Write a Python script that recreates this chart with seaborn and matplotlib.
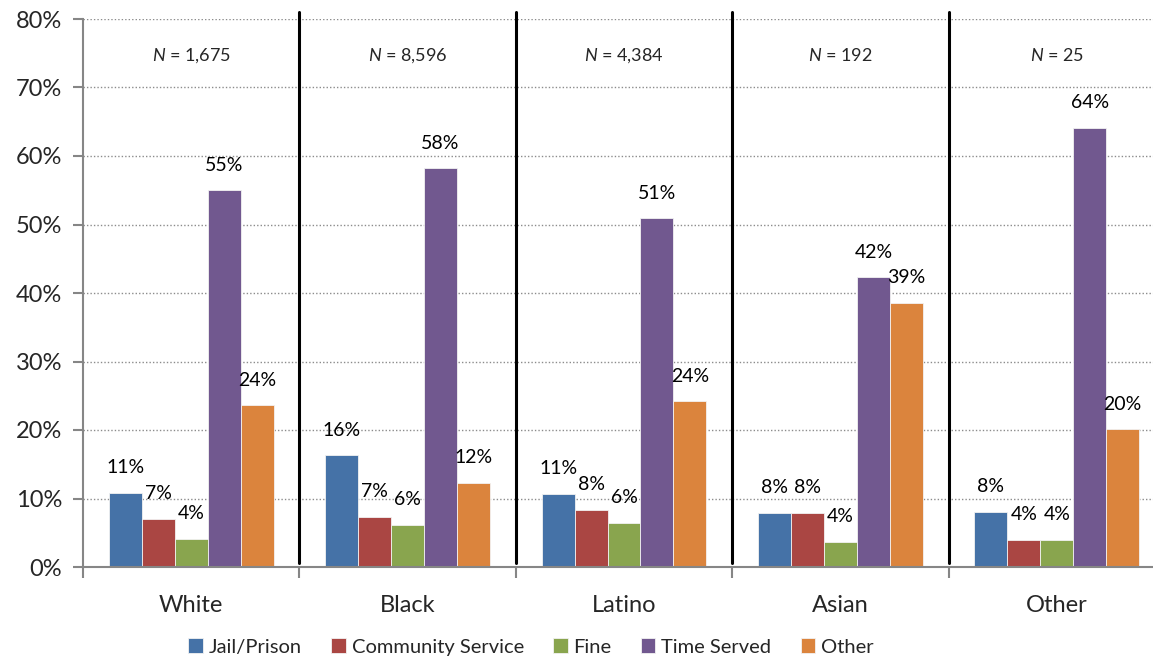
import numpy as np
import pandas as pd
import matplotlib
matplotlib.use("Agg")
import matplotlib.pyplot as plt
import seaborn as sns

groups = ["White", "Black", "Latino", "Asian", "Other"]
group_n = ["1,675", "8,596", "4,384", "192", "25"]
sentences = ["Jail/Prison", "Community Service", "Fine", "Time Served", "Other"]

jail_prison = [10.8, 16.3, 10.7, 7.9, 8.1]
community_service = [7.0, 7.3, 8.3, 7.9, 4.0]
fine = [4.1, 6.2, 6.4, 3.7, 4.0]
time_served = [55.0, 58.2, 50.9, 42.3, 64.1]
other = [23.6, 12.3, 24.2, 38.6, 20.1]

colors = ["#4572A7", "#AA4643", "#89A54E", "#71588F", "#DB843D"]

sns.set_theme(style="white")
plt.rcParams["font.family"] = ["Lato", "DejaVu Sans"]
plt.rcParams["mathtext.fontset"] = "custom"
plt.rcParams["mathtext.it"] = "Lato:italic"
plt.rcParams["mathtext.rm"] = "Lato"

rows = []
for s, vals in zip(sentences, [jail_prison, community_service, fine, time_served, other]):
    for g, v in zip(groups, vals):
        rows.append({"group": g, "sentence": s, "pct": v})
df = pd.DataFrame(rows)

fig = plt.figure(figsize=(11.53, 6.6), dpi=100)
ax = fig.add_axes([83 / 1153, 1 - 567 / 660, (1165 - 83) / 1153, 548 / 660])

sns.barplot(data=df, x="group", y="pct", hue="sentence", order=groups,
            hue_order=sentences, palette=colors, width=0.762, gap=0,
            edgecolor="#f2f2f2", linewidth=0.6, saturation=1, ax=ax)

ax.set_xlim(-0.5, 4.5)
ax.set_ylim(0, 80)
ax.set_yticks(np.arange(0, 81, 10))
ax.set_yticklabels([f"{t}%" for t in range(0, 81, 10)], fontsize=17)
ax.grid(axis="y", linestyle=(0, (1, 1.5)), color="#8c8c8c", linewidth=1.0)
ax.set_axisbelow(True)
ax.set_xlabel("")
ax.set_ylabel("")

for side in ["top", "right"]:
    ax.spines[side].set_visible(False)
for side in ["left", "bottom"]:
    ax.spines[side].set_color("#868686")
    ax.spines[side].set_linewidth(1.5)

ax.tick_params(axis="y", left=True, length=7, width=1.5, color="#868686", pad=8)
ax.set_xticks(range(len(groups)))
ax.set_xticklabels(groups, fontsize=17)
ax.tick_params(axis="x", bottom=False, pad=14)
ax.set_xticks(np.arange(-0.5, 4.5, 1.0), minor=True)
ax.tick_params(axis="x", which="minor", bottom=True, length=8, width=1.5,
               color="#868686", direction="out")

# bar value labels
for cont in ax.containers:
    ax.bar_label(cont, labels=[f"{v:.0f}%" for v in cont.datavalues],
                 padding=12, fontsize=14, color="black")

# separators between groups
for xb in np.arange(0.5, 4.5, 1.0):
    ax.plot([xb, xb], [0.6, 81.0], color="black", linewidth=2.2, clip_on=False)

# sample sizes
for i, n in enumerate(group_n):
    ax.text(i, 74.7, f"$N$ = {n}", ha="center", va="center", fontsize=13)

handles, labels = ax.get_legend_handles_labels()
ax.legend_.remove()
fig.legend(handles, labels, loc="center", bbox_to_anchor=(531 / 1153, 1 - 647 / 660),
           ncol=5, frameon=False, fontsize=14.5, handlelength=0.72, handleheight=0.72,
           handletextpad=0.3, columnspacing=1.45, borderaxespad=0)

fig.savefig("out.png", dpi=100)
